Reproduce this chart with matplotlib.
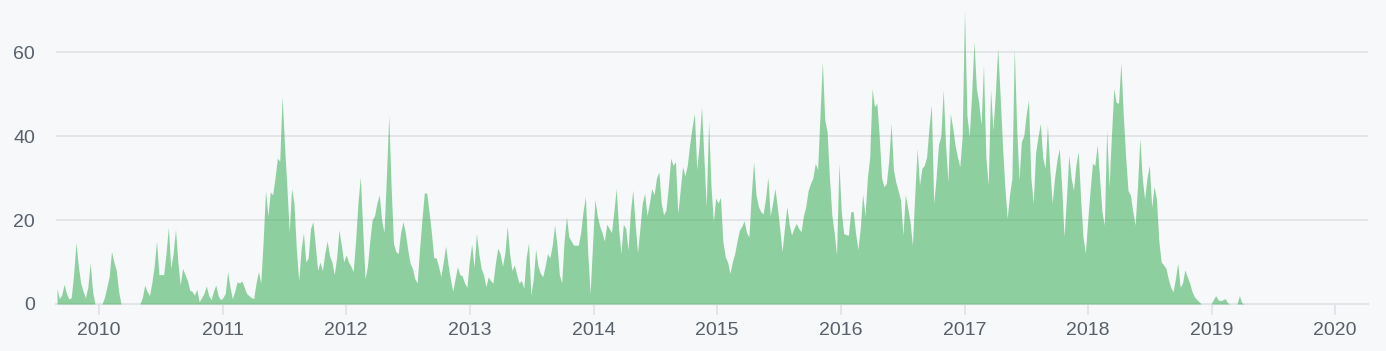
import matplotlib
matplotlib.use("Agg")
import matplotlib.pyplot as plt
import matplotlib.dates as mdates
import numpy as np
import pandas as pd

# weekly commit counts, one list per calendar year (weeks start on Sunday)
first_week = "2009-08-30"

weeks_2009 = [3.7, 1.3, 2.2, 4.7, 2.5, 1.2, 1.5, 7, 14.6, 9, 5, 3, 1.5, 4, 9.8, 3, 0, 0]
weeks_2010 = [0, 0, 1.5, 4, 6.5, 12.5, 10, 8, 3, 0, 0, 0, 0, 0, 0, 0, 0, 0,
              1.5, 4.5, 3, 2, 5, 9, 15, 7, 7, 7, 12, 18.3, 8.5, 12, 17.8, 10, 4.5, 8.5,
              7, 5.7, 3.3, 3, 2.1, 3.5, 0.5, 1.5, 2.5, 4.3, 2, 1, 3, 4.5, 2, 1]
weeks_2011 = [1.5, 2.5, 7.7, 4, 1.3, 3, 5.3, 5, 5.5, 4, 2.5, 2, 1.5, 1.3, 5, 7.7, 5, 15,
              27, 21, 26.7, 26, 30, 34.7, 34, 49.5, 38, 28, 17.2, 27.5, 24, 13, 5.5, 13,
              17, 10, 11, 18, 19.6, 14, 8, 10, 8, 12, 15, 11.5, 10, 7, 11, 17.6, 14, 10]
weeks_2012 = [11.7, 10, 9, 7.7, 15, 24, 30.3, 18, 6, 9, 15, 20, 21, 24, 26, 20, 17, 30,
              44.8, 28, 14.4, 12.5, 12, 17, 19.6, 17, 13, 9.7, 8.5, 6, 5, 13, 20, 26.4,
              26.5, 22, 17, 11, 11, 9, 6.5, 10, 13.8, 9.5, 6, 3, 6, 8.9, 7, 6.7, 5, 4, 10]
weeks_2013 = [14.3, 8.7, 16.8, 12, 8.5, 7, 4.1, 6.5, 5.5, 5, 9.7, 13.3, 12, 9, 12, 18.6,
              12, 8, 9.3, 7, 5, 5.6, 3.7, 11, 14.6, 2.1, 6, 13, 9, 7.3, 6.5, 9, 12, 11,
              14, 18.8, 14, 7, 5, 15, 20.8, 16, 15, 14, 14, 14, 17, 22, 25.6, 12, 2.5, 14]
weeks_2014 = [24.9, 21, 18.6, 17, 15, 19, 18, 17, 22, 27.5, 18, 12, 19, 18, 12.9, 22,
              27.1, 19, 12.2, 18, 24, 26.3, 21, 24, 27.5, 26, 30, 31.5, 24, 21.2, 22.4,
              28, 34.7, 33, 33.9, 21.6, 27, 32.7, 30.5, 33, 38, 42, 45.4, 32, 38, 47, 35,
              23.2, 43.4, 28, 19.6, 25.2]
weeks_2015 = [24, 25.4, 15, 11.3, 10, 7.3, 10, 12, 15, 17.6, 18.5, 19.8, 17, 16, 26,
              33.9, 26, 23.2, 22, 21.4, 25, 30.2, 21, 24, 27.5, 23, 18, 12.5, 18, 23.2,
              19, 16.4, 18, 19.2, 18, 17.2, 21, 23.2, 27, 28.7, 30, 33.5, 32, 45, 57.7,
              44, 41, 30, 21.2, 17, 11.7, 33.5]
weeks_2016 = [22, 16.8, 16.5, 16.4, 22, 22, 17, 13, 18, 26.2, 21, 30, 35, 51.3, 47,
              47.8, 40, 30, 27.9, 28.7, 34, 43, 32, 29, 27, 24.8, 16.4, 26, 23, 19.6, 14,
              26, 37, 28.3, 32.3, 33, 35, 42, 47.4, 24, 30, 37.9, 40, 51, 38, 29.1, 45.4,
              42, 37.9, 35, 32.7, 39.8]
weeks_2017 = [70, 45, 39.8, 50, 62.5, 51.3, 48, 42.6, 56.9, 35, 28.3, 51, 41.4, 50, 60.9,
              50, 38, 28, 20.4, 26, 29.9, 60.9, 42, 29.5, 38.7, 40, 45, 48.6, 30, 24, 36,
              39.8, 43, 35, 32.3, 42.6, 32, 24, 30, 34.3, 37, 28, 16, 25, 35.5, 30, 27.1,
              33, 36.3, 25, 16, 12.1, 20]
weeks_2018 = [27, 33.5, 33, 37.9, 30, 22, 18.8, 41.4, 27.9, 40, 51.3, 48, 47.8, 57.5, 45,
              35, 27, 26, 22, 18.8, 28, 39.4, 30, 25, 30, 33, 23, 28, 25, 15, 10, 9.3,
              8.5, 6, 4, 2.9, 6, 9.7, 4, 5, 8.1, 6.5, 5, 3, 1.7, 1.1, 0.5, 0, 0, 0, 0, 0]
weeks_2019 = [1, 2, 1, 0.8, 1, 1.3, 0.3, 0, 0, 0, 0, 2, 0.3] + [0] * 39
weeks_2020 = [0] * 14

commits = np.concatenate([weeks_2009, weeks_2010, weeks_2011, weeks_2012, weeks_2013,
                          weeks_2014, weeks_2015, weeks_2016, weeks_2017, weeks_2018,
                          weeks_2019, weeks_2020])
dates = pd.date_range(first_week, periods=len(commits), freq="7D")

y_ticks = [0, 20, 40, 60]

bg = "#f6f8fa"
grid_color = "#e1e4e8"
text_color = "#586069"

plt.rcParams["font.family"] = ["Liberation Sans", "DejaVu Sans"]

fig = plt.figure(figsize=(13.86, 3.51), dpi=100, facecolor=bg)
ax = fig.add_axes([56 / 1386, 47 / 351, 1312 / 1386, 299 / 351])
ax.set_facecolor(bg)

ax.fill_between(dates, commits, 0, color="#28a745", alpha=0.5, linewidth=0, zorder=3)

ax.set_ylim(0, 71.2)
ax.set_yticks(y_ticks)
ax.grid(axis="y", color=grid_color, linewidth=1.3, zorder=1)
ax.axhline(0, color=grid_color, linewidth=1.5, clip_on=False, zorder=1)
ax.set_axisbelow(True)
for s in ax.spines.values():
    s.set_visible(False)

ax.xaxis.set_major_locator(mdates.YearLocator())
ax.xaxis.set_major_formatter(mdates.DateFormatter("%Y"))
ax.set_xlim(pd.Timestamp("2009-08-27"), pd.Timestamp("2020-04-07"))

ax.tick_params(axis="x", length=8, width=1.3, color=grid_color, pad=5,
               labelsize=14, labelcolor=text_color)
ax.tick_params(axis="y", length=0, pad=15, labelsize=14, labelcolor=text_color)

fig.savefig("out.png", dpi=100, facecolor=bg)
